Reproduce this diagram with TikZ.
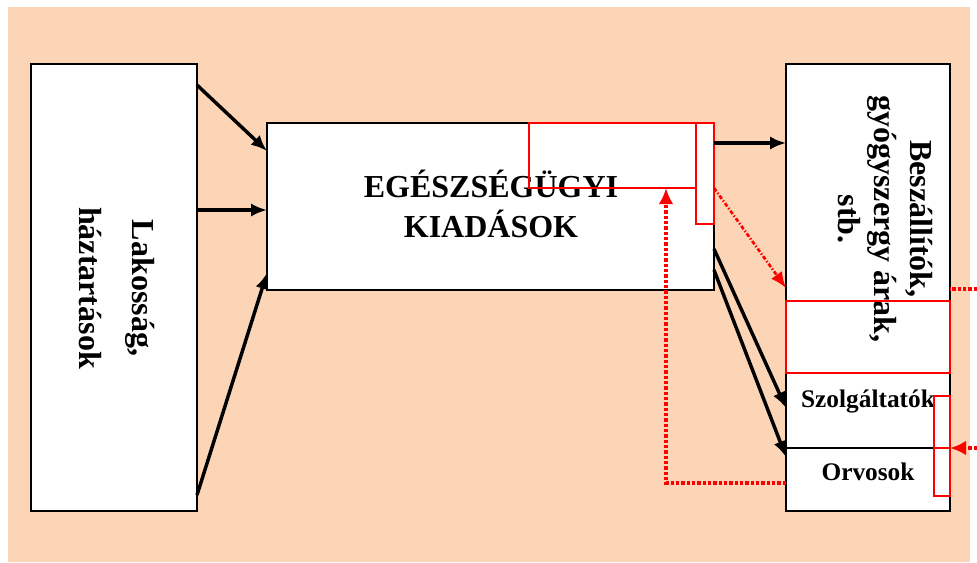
\documentclass[tikz,border=0pt]{standalone}
\usepackage{fontspec}
\setmainfont{Liberation Serif}
\usetikzlibrary{arrows.meta,positioning}
\definecolor{barack}{RGB}{251,213,181}

\begin{document}
\begin{tikzpicture}[x=0.75pt,y=-0.75pt,
	doboz/.style={draw,fill=white,line width=1.8pt,inner sep=0pt,outer sep=0pt},
	piros/.style={draw=red,line width=1.8pt,inner sep=0pt,outer sep=0pt},
	felirat/.style={font=\bfseries\fontsize{24}{30}\selectfont,align=center,inner sep=0pt},
	kisfelirat/.style={font=\bfseries\fontsize{19}{23}\selectfont,inner sep=0pt},
	nyil/.style={-{Latex[length=12pt,width=10pt]},line width=2.6pt},
	pontozott/.style={red,line width=2.6pt,dash pattern=on 2.4pt off 1.6pt},
	pnyil/.style={pontozott,-{Latex[length=12pt,width=11pt]}}]
	\useasboundingbox (0,0) rectangle (977,562);
	\fill[barack] (8,7) rectangle (970,562);

	\node[doboz,minimum width=124.5pt,minimum height=335.25pt] (lak) at (114,287.5) {};
	\node[doboz,minimum width=335.25pt,minimum height=125.25pt] (kiad) at (490.5,206.5) {};
	\node[doboz,minimum width=123pt,minimum height=231.75pt] (besz) at (868,218.5) {};
	\node[doboz,minimum width=123pt,minimum height=56.25pt,below=0pt of besz] (szolg) {};
	\node[doboz,minimum width=123pt,minimum height=47.25pt,below=0pt of szolg] (orvos) {};

	\node[felirat,rotate=-90,font=\bfseries\fontsize{24}{40}\selectfont] (lakt) at (117,288) {Lakosság,\\háztartások};
	\node[felirat] (kiadt) at (491,204) {EGÉSZSÉGÜGYI\\KIADÁSOK};
	\node[felirat,rotate=-90,font=\bfseries\fontsize{24}{27}\selectfont] (beszt) at (885,219) {Beszállítók,\\gyógyszergy árak,\\stb.};
	\node[kisfelirat] (szolgt) at (868,401) {Szolgáltatók};
	\node[kisfelirat] (orvost) at (868,472) {Orvosok};

	\node[piros,minimum width=125.25pt,minimum height=48.75pt] (kr) at (612.5,155.5) {};
	\node[piros,minimum width=13.5pt,minimum height=75.75pt] (kn) at (705,173.5) {};
	\node[piros,minimum width=123pt,minimum height=54pt] (bp) at (868,337) {};
	\node[piros,minimum width=12pt,minimum height=39pt] (oc1) at (942,422) {};
	\node[piros,minimum width=12pt,minimum height=36pt] (oc2) at (942,472) {};

	\draw[nyil] (lak.east |- 0,85) -- (kiad.west |- 0,151);
	\draw[nyil] (lak.east |- 0,210) -- (kiad.west |- 0,210);
	\draw[nyil] (lak.east |- 0,495) -- (kiad.west |- 0,273);
	\draw[nyil] (kiad.east |- 0,143) -- (besz.west |- 0,143);
	\draw[nyil] (kiad.east |- 0,249) -- (szolg.west |- 0,408);
	\draw[nyil] (kiad.east |- 0,270) -- (orvos.west |- 0,457);

	\draw[red,line width=2pt,dash pattern=on 3pt off 1.5pt on 1pt off 1.5pt,-{Latex[length=12pt,width=10pt]}]
		(kr.south -| kn.east) -- (besz.west |- 0,288);
	\coordinate (fordulo) at (666,483);
	\draw[pnyil] (orvos.west |- fordulo) -- (fordulo) -- (fordulo |- kr.south);
	\coordinate (jobb1) at (977,289);
	\coordinate (jobb2) at (977,448);
	\draw[pontozott] (jobb1) -- (jobb1 -| besz.east);
	\draw[pnyil] (jobb2) -- (jobb2 -| orvos.east);
\end{tikzpicture}
\end{document}
